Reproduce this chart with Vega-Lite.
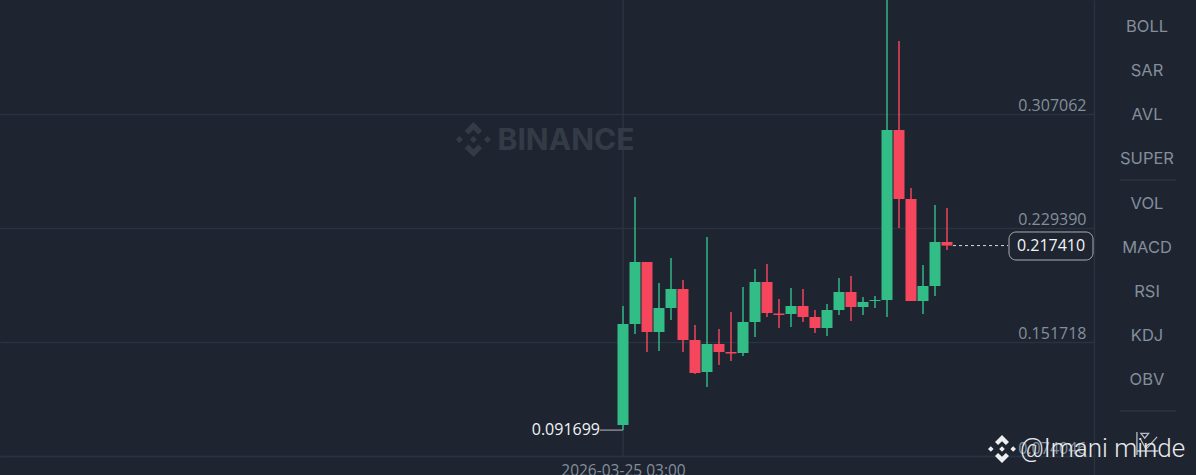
{
"$schema":"https://vega.github.io/schema/vega-lite/v6.json",
"width":1094,"height":475,"autosize":{"type":"none"},
"padding":{"left":0,"top":0,"right":102,"bottom":0},
"background":"#1e2530",
"config":{"view":{"stroke":null},"font":"Inter"},
"datasets":{
"candles":[
{"time":"2026-03-25T03:00:00Z","open":0.095168,"close":0.163982,"high":0.176246,"low":0.091699,"dir":"up"},
{"time":"2026-03-25T04:00:00Z","open":0.163982,"close":0.206225,"high":0.250511,"low":0.157169,"dir":"up"},
{"time":"2026-03-25T05:00:00Z","open":0.206225,"close":0.158532,"high":0.206225,"low":0.144905,"dir":"down"},
{"time":"2026-03-25T06:00:00Z","open":0.158532,"close":0.174884,"high":0.191917,"low":0.145586,"dir":"up"},
{"time":"2026-03-25T07:00:00Z","open":0.174884,"close":0.187829,"high":0.20895,"low":0.166708,"dir":"up"},
{"time":"2026-03-25T08:00:00Z","open":0.187829,"close":0.153081,"high":0.193961,"low":0.144905,"dir":"down"},
{"time":"2026-03-25T09:00:00Z","open":0.153081,"close":0.130597,"high":0.163301,"low":0.129916,"dir":"down"},
{"time":"2026-03-25T10:00:00Z","open":0.131278,"close":0.150356,"high":0.223258,"low":0.121059,"dir":"up"},
{"time":"2026-03-25T11:00:00Z","open":0.150356,"close":0.144905,"high":0.160576,"low":0.136048,"dir":"down"},
{"time":"2026-03-25T12:00:00Z","open":0.144905,"close":0.143883,"high":0.172158,"low":0.138773,"dir":"down"},
{"time":"2026-03-25T13:00:00Z","open":0.144224,"close":0.165345,"high":0.189192,"low":0.14218,"dir":"up"},
{"time":"2026-03-25T14:00:00Z","open":0.165345,"close":0.192598,"high":0.201455,"low":0.155125,"dir":"up"},
{"time":"2026-03-25T15:00:00Z","open":0.192598,"close":0.171477,"high":0.204862,"low":0.168752,"dir":"down"},
{"time":"2026-03-25T16:00:00Z","open":0.171136,"close":0.170114,"high":0.181016,"low":0.161257,"dir":"down"},
{"time":"2026-03-25T17:00:00Z","open":0.170796,"close":0.176246,"high":0.18851,"low":0.161938,"dir":"up"},
{"time":"2026-03-25T18:00:00Z","open":0.176246,"close":0.168752,"high":0.187829,"low":0.165345,"dir":"down"},
{"time":"2026-03-25T19:00:00Z","open":0.168752,"close":0.161257,"high":0.173521,"low":0.15785,"dir":"down"},
{"time":"2026-03-25T20:00:00Z","open":0.161257,"close":0.173521,"high":0.177609,"low":0.155806,"dir":"up"},
{"time":"2026-03-25T21:00:00Z","open":0.173521,"close":0.185785,"high":0.195323,"low":0.170114,"dir":"up"},
{"time":"2026-03-25T22:00:00Z","open":0.185785,"close":0.175565,"high":0.196686,"low":0.166026,"dir":"down"},
{"time":"2026-03-25T23:00:00Z","open":0.175565,"close":0.178972,"high":0.182378,"low":0.170114,"dir":"up"},
{"time":"2026-03-26T00:00:00Z","open":0.179653,"close":0.180334,"high":0.18306,"low":0.174884,"dir":"up"},
{"time":"2026-03-26T01:00:00Z","open":0.180334,"close":0.29616,"high":0.3847,"low":0.168752,"dir":"up"},
{"time":"2026-03-26T02:00:00Z","open":0.29616,"close":0.249149,"high":0.356799,"low":0.22939,"dir":"down"},
{"time":"2026-03-26T03:00:00Z","open":0.249149,"close":0.179653,"high":0.256643,"low":0.179653,"dir":"down"},
{"time":"2026-03-26T04:00:00Z","open":0.179653,"close":0.189873,"high":0.204181,"low":0.170796,"dir":"up"},
{"time":"2026-03-26T05:00:00Z","open":0.189873,"close":0.219851,"high":0.245061,"low":0.18306,"dir":"up"},
{"time":"2026-03-26T06:00:00Z","open":0.219851,"close":0.21741,"high":0.243017,"low":0.214401,"dir":"down"}
],
"menu":[{"label":"BOLL"},{"label":"SAR"},{"label":"AVL"},{"label":"SUPER"},{"label":"VOL"},{"label":"MACD"},{"label":"RSI"},{"label":"KDJ"},{"label":"OBV"}]
},
"layer":[
{"layer":[
{"data":{"values":[{}]},"mark":{"type":"rule","color":"#2b3340","strokeWidth":1.5},
 "encoding":{"x":{"datum":{"year":2026,"month":3,"date":25,"hours":3,"utc":true},"type":"temporal","title":null,
   "scale":{"type":"utc","nice":false,"padding":0,"domain":[{"year":2026,"month":3,"date":22,"hours":23,"minutes":5,"utc":true},{"year":2026,"month":3,"date":26,"hours":18,"minutes":15,"utc":true}]},
   "axis":{"values":[{"year":2026,"month":3,"date":25,"hours":3,"utc":true}],"labelExpr":"utcFormat(datum.value,'%Y-%m-%d %H:%M')","offset":-19,"orient":"bottom","grid":false,"ticks":false,"labelPadding":7,"labelFont":"Open Sans","labelFontSize":15.5,"labelColor":"#848e9c","labelFlush":false,"labelOverlap":false,"domainColor":"#2b3340","domainWidth":1.5}},
  "y":{"datum":0.384733,"type":"quantitative","title":null,
   "scale":{"domain":[0.061101,0.384733],"nice":false,"zero":false},
   "axis":{"orient":"right","values":[0.307062,0.22939,0.151718,0.074046],"format":".6f","grid":true,"gridColor":"#2b3340","gridWidth":1.5,"ticks":false,"labelAlign":"right","labelPadding":-8,"labelOffset":-8,"labelFont":"Open Sans","labelFontSize":16,"labelColor":"#848e9c","domainColor":"#2b3340","domainWidth":1.5}},
  "y2":{"datum":0.074046}}},
{"data":{"name":"candles"},"mark":{"type":"rule","strokeWidth":1.8,"opacity":0.8},
 "encoding":{
  "x":{"field":"time","type":"temporal","title":null},
  "y":{"field":"high","type":"quantitative","title":null},
  "y2":{"field":"low"},
  "color":{"field":"dir","type":"nominal","legend":null,"scale":{"domain":["up","down"],"range":["#32bd87","#f6465d"]}}}},
{"data":{"name":"candles"},"mark":{"type":"bar","size":11},
 "encoding":{"x":{"field":"time","type":"temporal","title":null},"y":{"field":"open","type":"quantitative","title":null},"y2":{"field":"close"},
  "color":{"field":"dir","type":"nominal","legend":null}}},
{"data":{"values":[{"brand":"BINANCE"}]},"mark":{"type":"text","font":"Inter","fontWeight":700,"fontSize":30,"color":"#343b47","align":"center","baseline":"middle"},
 "encoding":{"x":{"datum":{"year":2026,"month":3,"date":24,"hours":22,"minutes":15,"utc":true},"type":"temporal","title":null},"y":{"datum":0.288666,"type":"quantitative","title":null},"text":{"field":"brand"}}},
{"data":{"values":[{}]},"mark":{"type":"point","filled":true,"size":1225,"opacity":1,"color":"#343b47","shape":"M0,-0.2L0.2,0L0,0.2L-0.2,0ZM-0.8,-0.2L-0.6,0L-0.8,0.2L-1,0ZM0.8,-0.2L1,0L0.8,0.2L0.6,0ZM0,-1L0.5,-0.5L0.28,-0.28L0,-0.56L-0.28,-0.28L-0.5,-0.5ZM0,1L0.5,0.5L0.28,0.28L0,0.56L-0.28,0.28L-0.5,0.5Z"},
 "encoding":{"x":{"datum":{"year":2026,"month":3,"date":24,"hours":14,"minutes":32,"utc":true},"type":"temporal","title":null},"y":{"datum":0.289687,"type":"quantitative","title":null}}},
{"data":{"values":[{}]},"mark":{"type":"rule","color":"#9aa1ab","strokeWidth":1.2},
 "encoding":{"x":{"datum":{"year":2026,"month":3,"date":25,"hours":1,"minutes":5,"utc":true},"type":"temporal","title":null},"x2":{"datum":{"year":2026,"month":3,"date":25,"hours":3,"utc":true}},"y":{"datum":0.091699,"type":"quantitative","title":null}}},
{"data":{"values":[{"price":0.091699}]},"mark":{"type":"text","font":"Open Sans","align":"right","baseline":"middle","fontSize":16,"color":"#f2f3f5"},
 "encoding":{"x":{"datum":{"year":2026,"month":3,"date":25,"hours":1,"minutes":5,"utc":true},"type":"temporal","title":null},"y":{"field":"price","type":"quantitative","title":null},"text":{"field":"price","format":".6f"}}},
{"data":{"values":[{}]},"mark":{"type":"rule","color":"#d8dade","strokeWidth":1,"strokeDash":[3,3]},
 "encoding":{"x":{"datum":{"year":2026,"month":3,"date":26,"hours":6,"minutes":30,"utc":true},"type":"temporal","title":null},"x2":{"datum":{"year":2026,"month":3,"date":26,"hours":11,"minutes":5,"utc":true}},"y":{"datum":0.21741,"type":"quantitative","title":null}}},
{"data":{"values":[{}]},"mark":{"type":"rect","fill":"#1e2530","stroke":"#a9adb3","strokeWidth":1,"cornerRadius":7},
 "encoding":{"x":{"datum":{"year":2026,"month":3,"date":26,"hours":11,"minutes":10,"utc":true},"type":"temporal","title":null},"x2":{"datum":{"year":2026,"month":3,"date":26,"hours":18,"minutes":10,"utc":true}},"y":{"datum":0.226665,"type":"quantitative","title":null},"y2":{"datum":0.207587}}},
{"data":{"values":[{"price":0.21741}]},"mark":{"type":"text","font":"Open Sans","align":"center","baseline":"middle","fontSize":16,"color":"#f2f3f5"},
 "encoding":{"x":{"datum":{"year":2026,"month":3,"date":26,"hours":14,"minutes":40,"utc":true},"type":"temporal","title":null},"y":{"field":"price","type":"quantitative","title":null},"text":{"field":"price","format":".6f"}}},
{"data":{"values":[{}]},"mark":{"type":"rule","color":"#343b47","strokeWidth":1},
 "encoding":{"x":{"datum":{"year":2026,"month":3,"date":26,"hours":20,"minutes":25,"utc":true},"type":"temporal","title":null},"x2":{"datum":{"year":2026,"month":3,"date":27,"hours":1,"minutes":5,"utc":true}},"y":{"datum":0.262094,"type":"quantitative","title":null}}},
{"data":{"values":[{}]},"mark":{"type":"rule","color":"#343b47","strokeWidth":1},
 "encoding":{"x":{"datum":{"year":2026,"month":3,"date":26,"hours":20,"minutes":25,"utc":true},"type":"temporal","title":null},"x2":{"datum":{"year":2026,"month":3,"date":27,"hours":1,"minutes":5,"utc":true}},"y":{"datum":0.104707,"type":"quantitative","title":null}}},
{"data":{"values":[{}]},"mark":{"type":"point","filled":false,"size":1024,"opacity":1,"color":"#b7bcc4","strokeWidth":1.3,"shape":"M-0.63,-0.69L-0.63,0.75M-0.63,0.5L0.7,0.5M-0.38,-0.19L-0.06,0.38L0.63,-0.38M-0.38,-0.6L0.1,-0.6L-0.14,-0.3Z"},
 "encoding":{"x":{"datum":{"year":2026,"month":3,"date":26,"hours":22,"minutes":40,"utc":true},"type":"temporal","title":null},"y":{"datum":0.082904,"type":"quantitative","title":null}}},
{"data":{"values":[{}]},"mark":{"type":"point","filled":true,"size":784,"opacity":1,"color":"#eceef0","shape":"M0,-0.2L0.2,0L0,0.2L-0.2,0ZM-0.8,-0.2L-0.6,0L-0.8,0.2L-1,0ZM0.8,-0.2L1,0L0.8,0.2L0.6,0ZM0,-1L0.5,-0.5L0.28,-0.28L0,-0.56L-0.28,-0.28L-0.5,-0.5ZM0,1L0.5,0.5L0.28,0.28L0,0.56L-0.28,0.28L-0.5,0.5Z"},
 "encoding":{"x":{"datum":{"year":2026,"month":3,"date":26,"hours":10,"minutes":35,"utc":true},"type":"temporal","title":null},"y":{"datum":0.0788,"type":"quantitative","title":null}}},
{"data":{"values":[{"handle":"@Imani minde"}]},"mark":{"type":"text","font":"Roboto","fontWeight":300,"fontSize":26,"color":"#e8eaed","align":"left","baseline":"middle"},
 "encoding":{"x":{"datum":{"year":2026,"month":3,"date":26,"hours":12,"minutes":5,"utc":true},"type":"temporal","title":null},"y":{"datum":0.0788,"type":"quantitative","title":null},"text":{"field":"handle"}}}
]},
{"data":{"name":"menu"},"mark":{"type":"text","fontSize":16.5,"color":"#848e9c","align":"center","baseline":"middle"},
 "encoding":{"x":{"datum":{"year":2026,"month":3,"date":26,"hours":22,"minutes":40,"utc":true},"type":"temporal","title":null},
  "y":{"field":"label","type":"ordinal","axis":null,"scale":{"type":"point","padding":0,"domain":["BOLL","SAR","AVL","SUPER","VOL","MACD","RSI","KDJ","OBV"],"range":[27,380]}},
  "text":{"field":"label"}}}
],
"resolve":{"scale":{"y":"independent"},"axis":{"y":"independent"}}
}
